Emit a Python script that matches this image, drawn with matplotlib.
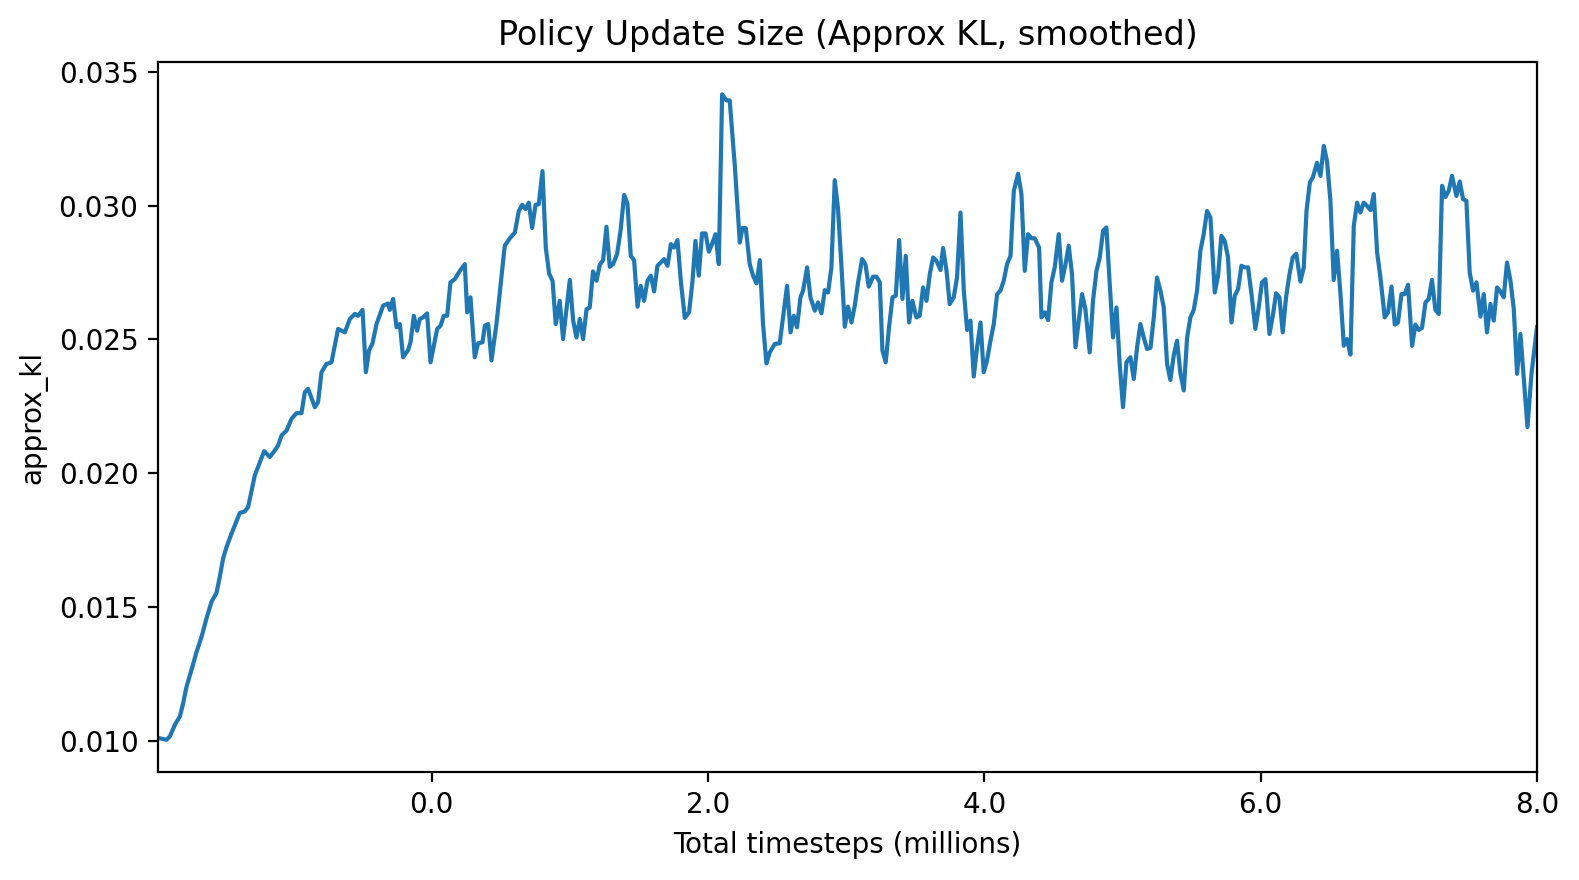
import matplotlib
matplotlib.use("Agg")
import matplotlib.pyplot as plt
import numpy as np

# timesteps (millions) and smoothed approx_kl
steps = [
    -1.980, -1.918, -1.894, -1.857, -1.821, -1.797, -1.773, -1.737, -1.700, -1.664,
    -1.628, -1.592, -1.556, -1.532, -1.508, -1.483, -1.447, -1.387, -1.351, -1.327,
    -1.302, -1.279, -1.242, -1.211, -1.170, -1.134, -1.110, -1.085, -1.049, -1.013,
    -0.977, -0.941, -0.917, -0.893, -0.844, -0.821, -0.796, -0.760, -0.724, -0.676,
    -0.627, -0.591, -0.555, -0.531, -0.499, -0.475, -0.452, -0.427, -0.398, -0.350,
    -0.314, -0.302, -0.278, -0.253, -0.229, -0.206, -0.169, -0.152, -0.128, -0.104,
    -0.085, -0.061, -0.032, -0.007, 0.017, 0.041, 0.065, 0.089, 0.113, 0.137,
    0.169, 0.205, 0.241, 0.258, 0.282, 0.313, 0.337, 0.369, 0.386, 0.410,
    0.434, 0.470, 0.501, 0.530, 0.567, 0.603, 0.632, 0.656, 0.680, 0.704,
    0.728, 0.753, 0.776, 0.803, 0.827, 0.851, 0.876, 0.899, 0.928, 0.952,
    1.001, 1.025, 1.049, 1.073, 1.097, 1.122, 1.145, 1.169, 1.194, 1.218,
    1.242, 1.266, 1.290, 1.314, 1.343, 1.368, 1.394, 1.418, 1.442, 1.466,
    1.491, 1.514, 1.538, 1.563, 1.587, 1.611, 1.635, 1.659, 1.683, 1.708,
    1.732, 1.755, 1.780, 1.804, 1.833, 1.864, 1.889, 1.910, 1.934, 1.958,
    1.983, 2.007, 2.030, 2.055, 2.079, 2.103, 2.135, 2.158, 2.195, 2.231,
    2.250, 2.274, 2.303, 2.327, 2.352, 2.376, 2.399, 2.424, 2.448, 2.484,
    2.520, 2.549, 2.573, 2.598, 2.622, 2.645, 2.670, 2.689, 2.718, 2.742,
    2.774, 2.797, 2.822, 2.846, 2.870, 2.894, 2.918, 2.942, 2.967, 2.991,
    3.014, 3.039, 3.063, 3.087, 3.116, 3.140, 3.164, 3.195, 3.220, 3.244,
    3.263, 3.287, 3.311, 3.336, 3.360, 3.384, 3.408, 3.432, 3.456, 3.480,
    3.509, 3.533, 3.557, 3.582, 3.606, 3.630, 3.654, 3.683, 3.702, 3.727,
    3.750, 3.779, 3.803, 3.828, 3.852, 3.876, 3.900, 3.924, 3.948, 3.973,
    3.996, 4.020, 4.045, 4.069, 4.093, 4.117, 4.141, 4.165, 4.190, 4.214,
    4.245, 4.269, 4.293, 4.317, 4.342, 4.365, 4.397, 4.414, 4.438, 4.462,
    4.486, 4.510, 4.539, 4.563, 4.588, 4.611, 4.635, 4.660, 4.684, 4.708,
    4.732, 4.763, 4.787, 4.812, 4.836, 4.860, 4.884, 4.908, 4.932, 4.957,
    4.980, 5.004, 5.029, 5.058, 5.082, 5.106, 5.130, 5.154, 5.178, 5.203,
    5.227, 5.250, 5.275, 5.299, 5.323, 5.347, 5.371, 5.395, 5.420, 5.444,
    5.468, 5.492, 5.516, 5.540, 5.564, 5.588, 5.612, 5.637, 5.668, 5.692,
    5.716, 5.740, 5.764, 5.789, 5.813, 5.837, 5.861, 5.885, 5.909, 5.934,
    5.962, 5.986, 6.010, 6.035, 6.064, 6.088, 6.112, 6.136, 6.160, 6.184,
    6.209, 6.232, 6.258, 6.288, 6.312, 6.332, 6.356, 6.379, 6.408, 6.433,
    6.457, 6.481, 6.505, 6.529, 6.553, 6.578, 6.602, 6.625, 6.650, 6.674,
    6.698, 6.722, 6.746, 6.770, 6.795, 6.819, 6.843, 6.867, 6.898, 6.922,
    6.947, 6.971, 6.994, 7.019, 7.043, 7.067, 7.096, 7.120, 7.144, 7.168,
    7.193, 7.217, 7.240, 7.265, 7.289, 7.313, 7.337, 7.361, 7.385, 7.417,
    7.441, 7.465, 7.489, 7.513, 7.537, 7.562, 7.591, 7.615, 7.638, 7.663,
    7.687, 7.711, 7.735, 7.759, 7.783, 7.808, 7.832, 7.856, 7.880, 7.931,
    7.960, 8.000,
]

approx_kl = [
    0.01010, 0.01003, 0.01015, 0.01059, 0.01090, 0.01140, 0.01201, 0.01264, 0.01332, 0.01388,
    0.01457, 0.01519, 0.01552, 0.01612, 0.01681, 0.01724, 0.01774, 0.01851, 0.01857, 0.01873,
    0.01935, 0.01991, 0.02041, 0.02082, 0.02060, 0.02085, 0.02103, 0.02141, 0.02159, 0.02203,
    0.02224, 0.02224, 0.02302, 0.02315, 0.02246, 0.02265, 0.02377, 0.02408, 0.02414, 0.02539,
    0.02526, 0.02576, 0.02595, 0.02588, 0.02610, 0.02377, 0.02458, 0.02485, 0.02557, 0.02626,
    0.02634, 0.02610, 0.02651, 0.02545, 0.02557, 0.02433, 0.02460, 0.02489, 0.02588, 0.02532,
    0.02576, 0.02582, 0.02597, 0.02414, 0.02476, 0.02539, 0.02551, 0.02588, 0.02588, 0.02713,
    0.02725, 0.02756, 0.02781, 0.02601, 0.02657, 0.02433, 0.02485, 0.02489, 0.02551, 0.02557,
    0.02421, 0.02557, 0.02707, 0.02850, 0.02878, 0.02899, 0.02980, 0.03003, 0.02987, 0.03011,
    0.02916, 0.03003, 0.03005, 0.03129, 0.02843, 0.02746, 0.02719, 0.02557, 0.02644, 0.02501,
    0.02722, 0.02570, 0.02507, 0.02576, 0.02501, 0.02613, 0.02619, 0.02754, 0.02719, 0.02779,
    0.02796, 0.02921, 0.02771, 0.02781, 0.02819, 0.02906, 0.03040, 0.03007, 0.02812, 0.02796,
    0.02622, 0.02700, 0.02644, 0.02719, 0.02738, 0.02679, 0.02775, 0.02787, 0.02800, 0.02775,
    0.02856, 0.02843, 0.02871, 0.02719, 0.02580, 0.02601, 0.02719, 0.02868, 0.02738, 0.02896,
    0.02896, 0.02828, 0.02856, 0.02893, 0.02781, 0.03416, 0.03393, 0.03393, 0.03148, 0.02862,
    0.02916, 0.02916, 0.02781, 0.02738, 0.02709, 0.02796, 0.02557, 0.02410, 0.02451, 0.02483,
    0.02485, 0.02601, 0.02700, 0.02526, 0.02588, 0.02545, 0.02657, 0.02682, 0.02769, 0.02657,
    0.02607, 0.02638, 0.02597, 0.02684, 0.02675, 0.02769, 0.03095, 0.02987, 0.02769, 0.02547,
    0.02622, 0.02563, 0.02626, 0.02713, 0.02800, 0.02781, 0.02697, 0.02734, 0.02734, 0.02713,
    0.02458, 0.02414, 0.02545, 0.02657, 0.02663, 0.02871, 0.02651, 0.02812, 0.02563, 0.02644,
    0.02582, 0.02588, 0.02694, 0.02644, 0.02744, 0.02806, 0.02794, 0.02759, 0.02841, 0.02756,
    0.02632, 0.02657, 0.02731, 0.02974, 0.02682, 0.02535, 0.02570, 0.02361, 0.02470, 0.02563,
    0.02377, 0.02421, 0.02495, 0.02557, 0.02669, 0.02682, 0.02719, 0.02781, 0.02812, 0.03055,
    0.03119, 0.03043, 0.02756, 0.02893, 0.02878, 0.02878, 0.02843, 0.02582, 0.02601, 0.02572,
    0.02713, 0.02769, 0.02893, 0.02719, 0.02781, 0.02850, 0.02744, 0.02470, 0.02570, 0.02669,
    0.02613, 0.02451, 0.02644, 0.02756, 0.02806, 0.02906, 0.02918, 0.02707, 0.02507, 0.02619,
    0.02408, 0.02246, 0.02414, 0.02433, 0.02352, 0.02470, 0.02557, 0.02507, 0.02464, 0.02468,
    0.02582, 0.02731, 0.02682, 0.02619, 0.02408, 0.02348, 0.02439, 0.02495, 0.02371, 0.02309,
    0.02507, 0.02582, 0.02610, 0.02682, 0.02831, 0.02893, 0.02980, 0.02955, 0.02675, 0.02738,
    0.02887, 0.02868, 0.02806, 0.02563, 0.02663, 0.02688, 0.02775, 0.02769, 0.02769, 0.02669,
    0.02539, 0.02619, 0.02713, 0.02725, 0.02520, 0.02588, 0.02672, 0.02657, 0.02526, 0.02657,
    0.02744, 0.02806, 0.02820, 0.02716, 0.02769, 0.02980, 0.03086, 0.03107, 0.03160, 0.03111,
    0.03223, 0.03164, 0.03018, 0.02722, 0.02831, 0.02669, 0.02476, 0.02501, 0.02443, 0.02924,
    0.03011, 0.02974, 0.03011, 0.02999, 0.02983, 0.03043, 0.02825, 0.02731, 0.02582, 0.02601,
    0.02697, 0.02555, 0.02563, 0.02669, 0.02669, 0.02704, 0.02476, 0.02555, 0.02535, 0.02543,
    0.02638, 0.02651, 0.02722, 0.02610, 0.02595, 0.03074, 0.03032, 0.03055, 0.03111, 0.03036,
    0.03090, 0.03024, 0.03018, 0.02750, 0.02682, 0.02713, 0.02585, 0.02669, 0.02526, 0.02632,
    0.02570, 0.02694, 0.02679, 0.02657, 0.02787, 0.02719, 0.02613, 0.02371, 0.02520, 0.02172,
    0.02371, 0.02545,
]

x_ticks = [0, 2, 4, 6, 8]
x_tick_labels = ["%.1f" % t for t in x_ticks]

fig = plt.figure(figsize=(1579 / 200, 880 / 200), dpi=200)
ax = fig.add_subplot(111)
fig.subplots_adjust(left=0.100, right=0.9734, top=0.9295, bottom=0.1227)

ax.plot(steps, approx_kl, color="C0", linewidth=1.5)
ax.set_xlim(steps[0], steps[-1])
ax.set_xticks(x_ticks)
ax.set_xticklabels(x_tick_labels)
ax.set_title("Policy Update Size (Approx KL, smoothed)")
ax.set_xlabel("Total timesteps (millions)")
ax.set_ylabel("approx_kl")

fig.savefig("out.png", dpi=200)
